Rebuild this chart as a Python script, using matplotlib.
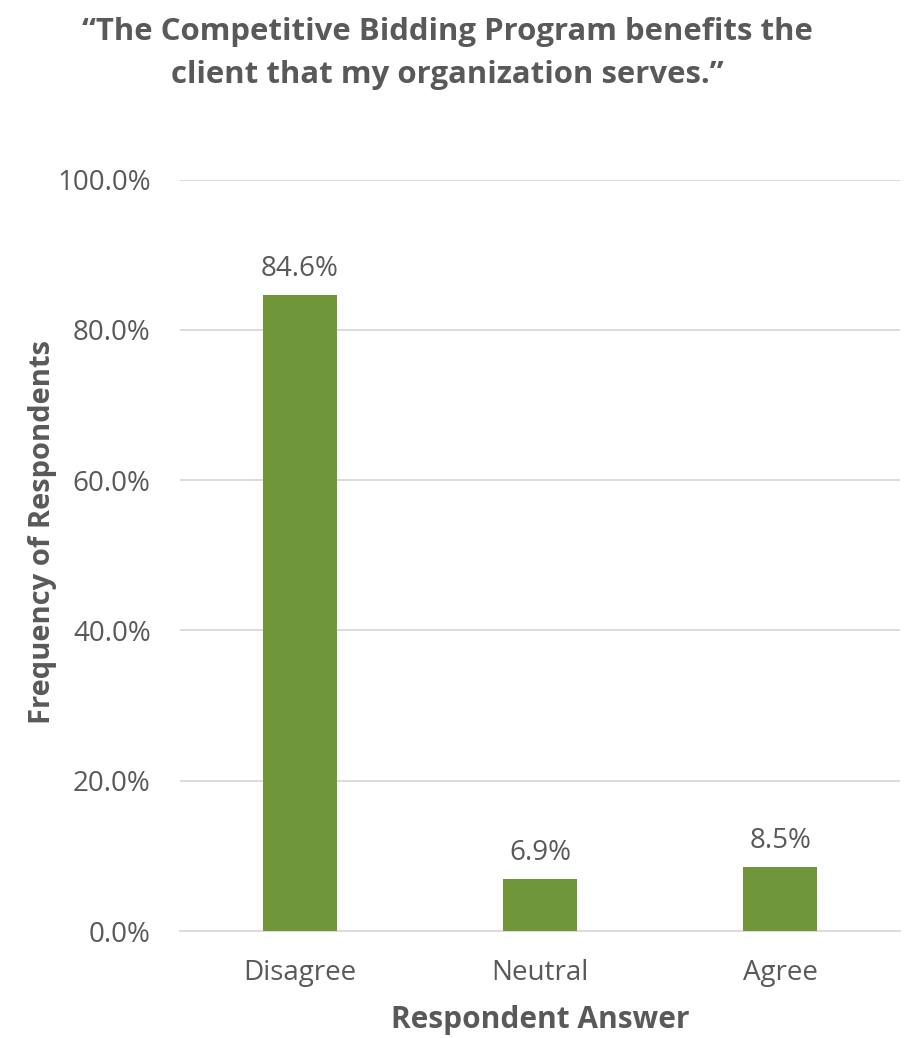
import matplotlib
matplotlib.use("Agg")
import matplotlib.pyplot as plt
from matplotlib.ticker import FuncFormatter

# Survey responses
categories = ["Disagree", "Neutral", "Agree"]
shares = [84.6, 6.9, 8.5]
y_ticks = [0, 20, 40, 60, 80, 100]

title = "\u201cThe Competitive Bidding Program benefits the\nclient that my organization serves.\u201d"
x_title = "Respondent Answer"
y_title = "Frequency of Respondents"

bar_color = "#70963B"
text_color = "#595959"
grid_color = "#D9D9D9"

plt.rcParams["font.family"] = ["Open Sans", "DejaVu Sans"]

fig = plt.figure(figsize=(9.13, 10.38), dpi=100)
ax = fig.add_axes([0.197, 0.103, 0.789, 0.724])

x = range(len(categories))
bars = ax.bar(x, shares, width=0.31, color=bar_color, zorder=3)

for b, v in zip(bars, shares):
    ax.text(b.get_x() + b.get_width() / 2, v + 1.6, f"{v:.1f}%",
            ha="center", va="bottom", fontsize=20, color=text_color)

ax.set_xlim(-0.5, 2.5)
ax.set_ylim(0, 100)
ax.set_yticks(y_ticks)
ax.yaxis.set_major_formatter(FuncFormatter(lambda v, p: f"{v:.1f}%"))
ax.set_xticks(list(x))
ax.set_xticklabels(categories)

ax.grid(axis="y", color=grid_color, linewidth=1.3, zorder=0)
for s in ["top", "right", "left"]:
    ax.spines[s].set_visible(False)
ax.spines["bottom"].set_color(grid_color)
ax.spines["bottom"].set_linewidth(1.3)
ax.tick_params(axis="both", length=0, labelsize=20, labelcolor=text_color)
ax.tick_params(axis="y", pad=21)
ax.tick_params(axis="x", pad=20)

ax.set_xlabel(x_title, fontsize=21.5, fontweight="bold", color=text_color, labelpad=13)
ax.set_ylabel(y_title, fontsize=21, fontweight="bold", color=text_color)
ax.yaxis.set_label_coords(-0.17, 0.531)

fig.text(0.49, 0.984, title, ha="center", va="top", fontsize=22.4,
         fontweight="bold", color=text_color, linespacing=1.6)

fig.savefig("out.png", dpi=100, facecolor="white")
